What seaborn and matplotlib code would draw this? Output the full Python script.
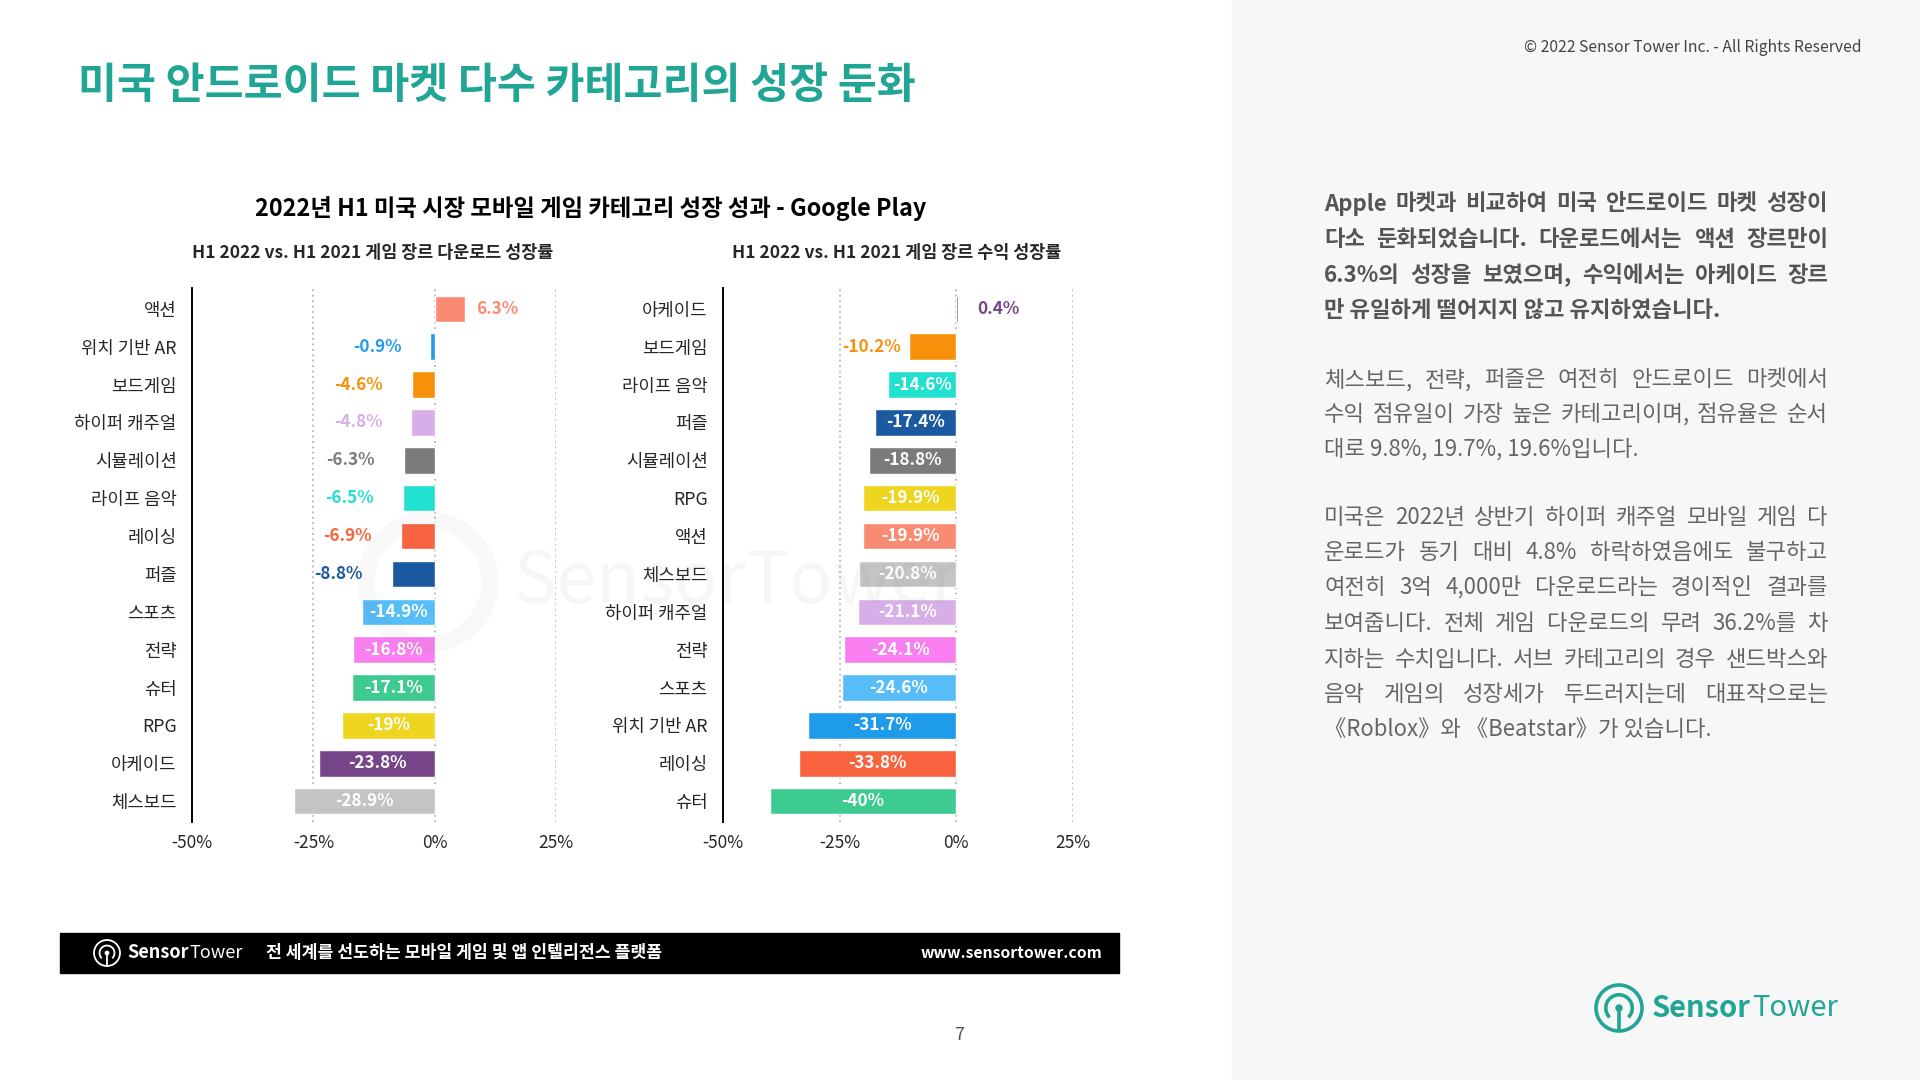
import pandas as pd
import matplotlib
matplotlib.use("Agg")
import matplotlib.pyplot as plt
import seaborn as sns
from matplotlib.patches import Rectangle, Circle, Arc

sns.set_style("white")
plt.rcParams['font.family'] = ['Noto Sans CJK KR', 'DejaVu Sans']

TEAL = "#21a594"

# colour per genre (same in both panels)
genre_colors = {
    "액션": "#f98b72",
    "위치 기반 AR": "#1e9be9",
    "보드게임": "#f7900a",
    "하이퍼 캐주얼": "#d8aee8",
    "시뮬레이션": "#7b7b7b",
    "라이프 음악": "#22e0cf",
    "레이싱": "#f9623e",
    "퍼즐": "#1b5aa0",
    "스포츠": "#56bdf9",
    "전략": "#f97ff0",
    "슈터": "#3dcb92",
    "RPG": "#eed51f",
    "아케이드": "#774589",
    "체스보드": "#c4c4c4",
}

# downloads growth H1 2022 vs H1 2021
dl_genres = ["액션", "위치 기반 AR", "보드게임", "하이퍼 캐주얼", "시뮬레이션", "라이프 음악", "레이싱",
             "퍼즐", "스포츠", "전략", "슈터", "RPG", "아케이드", "체스보드"]
dl_growth = [6.3, -0.9, -4.6, -4.8, -6.3, -6.5, -6.9, -8.8, -14.9, -16.8, -17.1, -19, -23.8, -28.9]

# revenue growth H1 2022 vs H1 2021
rev_genres = ["아케이드", "보드게임", "라이프 음악", "퍼즐", "시뮬레이션", "RPG", "액션", "체스보드",
              "하이퍼 캐주얼", "전략", "스포츠", "위치 기반 AR", "레이싱", "슈터"]
rev_growth = [0.4, -10.2, -14.6, -17.4, -18.8, -19.9, -19.9, -20.8, -21.1, -24.1, -24.6, -31.7, -33.8, -40]

x_ticks = [-50, -25, 0, 25]
x_tick_labels = ["-50%", "-25%", "0%", "25%"]

para1 = ["Apple 마켓과 비교하여 미국 안드로이드 마켓 성장이",
         "다소 둔화되었습니다. 다운로드에서는 액션 장르만이",
         "6.3%의 성장을 보였으며, 수익에서는 아케이드 장르",
         "만 유일하게 떨어지지 않고 유지하였습니다."]
para2 = ["체스보드, 전략, 퍼즐은 여전히 안드로이드 마켓에서",
         "수익 점유일이 가장 높은 카테고리이며, 점유율은 순서",
         "대로 9.8%, 19.7%, 19.6%입니다."]
para3 = ["미국은 2022년 상반기 하이퍼 캐주얼 모바일 게임 다",
         "운로드가 동기 대비 4.8% 하락하였음에도 불구하고",
         "여전히 3억 4,000만 다운로드라는 경이적인 결과를",
         "보여줍니다. 전체 게임 다운로드의 무려 36.2%를 차",
         "지하는 수치입니다. 서브 카테고리의 경우 샌드박스와",
         "음악 게임의 성장세가 두드러지는데 대표작으로는",
         "《Roblox》와 《Beatstar》가 있습니다."]

W, H = 1920, 1080
fig = plt.figure(figsize=(19.2, 10.8), dpi=100)
fig.patch.set_facecolor("white")


def panel(rect, genres, growth, neg_gap, pos_gap):
    ax = fig.add_axes(rect)
    df = pd.DataFrame({"genre": genres, "growth": growth})
    sns.barplot(data=df, x="growth", y="genre", hue="genre", palette=genre_colors,
                saturation=1, width=0.7, legend=False, ax=ax, zorder=3)
    ax.set_xlim(-50, 25)
    ax.set_ylim(13.55, -0.55)
    for s in ["top", "right", "bottom"]:
        ax.spines[s].set_visible(False)
    ax.spines["left"].set_color("black")
    ax.spines["left"].set_linewidth(1.4)
    for g in [-25, 0, 25]:
        ax.axvline(g, color="#b5b5b5", lw=1.3, ls=(0, (1, 2)), zorder=1)
    ax.set_xticks(x_ticks)
    ax.set_xticklabels(x_tick_labels, fontsize=12.5)
    ax.tick_params(axis="x", length=0, pad=9)
    ax.tick_params(axis="y", length=0, pad=11, labelsize=12.8)
    ax.set_xlabel("")
    ax.set_ylabel("")
    for i, v in enumerate(growth):
        lab = f"{v:g}%"
        col = genre_colors[genres[i]]
        if v <= -12:
            ax.text(v / 2, i, lab, ha="center", va="center", color="white",
                    fontsize=12.3, fontweight="bold", zorder=5)
        elif v < 0:
            ax.annotate(lab, xy=(v, i), xytext=(-neg_gap, 0), textcoords="offset points",
                        ha="right", va="center", color=col, fontsize=12.3, fontweight="bold")
        else:
            ax.annotate(lab, xy=(v, i), xytext=(pos_gap, 0), textcoords="offset points",
                        ha="left", va="center", color=col, fontsize=12.3, fontweight="bold")
    return ax


panel([192 / W, 1 - 822 / H, 364 / W, 534 / H], dl_genres, dl_growth, 21, 8)
panel([723 / W, 1 - 822 / H, 350 / W, 534 / H], rev_genres, rev_growth, 6, 14)

# overlay in pixel coordinates for the slide decoration
ov = fig.add_axes([0, 0, 1, 1])
ov.set_xlim(0, W)
ov.set_ylim(H, 0)
ov.axis("off")
ov.patch.set_alpha(0)
ov.set_zorder(10)

ov.add_patch(Rectangle((1232, 0), W - 1232, H, color="#f7f7f7", zorder=0))

ov.text(78, 86, "미국 안드로이드 마켓 다수 카테고리의 성장 둔화", fontsize=30.5, fontweight="bold",
        color=TEAL, ha="left", va="center")
ov.text(591, 209, "2022년 H1 미국 시장 모바일 게임 카테고리 성장 성과 - Google Play",
        fontsize=16.8, fontweight="bold", color="black", ha="center", va="center")
ov.text(373, 253, "H1 2022 vs. H1 2021 게임 장르 다운로드 성장률", fontsize=12.5,
        fontweight="bold", ha="center", va="center")
ov.text(897, 253, "H1 2022 vs. H1 2021 게임 장르 수익 성장률", fontsize=12.5,
        fontweight="bold", ha="center", va="center")
ov.text(1861, 47, "© 2022 Sensor Tower Inc. - All Rights Reserved", fontsize=11.3,
        color="#444444", ha="right", va="center")
ov.text(959, 1035, "7", fontsize=13, color="#555555", ha="center", va="center")

renderer = fig.canvas.get_renderer()


def text_width(t):
    bb = t.get_window_extent(renderer)
    return bb.width


def justified(lines, x0, x1, y0, dy, **kw):
    for i, line in enumerate(lines):
        y = y0 + i * dy
        words = line.split(" ")
        if i == len(lines) - 1 or len(words) == 1:
            ov.text(x0, y, line, ha="left", va="center", **kw)
            continue
        ts = [ov.text(0, y, w, ha="left", va="center", **kw) for w in words]
        ws = [text_width(t) for t in ts]
        gap = max((x1 - x0 - sum(ws)) / (len(words) - 1), 3)
        x = x0
        for t, w in zip(ts, ws):
            t.set_x(x)
            x += w + gap


justified(para1, 1324, 1828, 204, 35.5, fontsize=16, fontweight="bold", color="#555555")
justified(para2, 1324, 1828, 380, 34.5, fontsize=16, color="#666666")
justified(para3, 1324, 1828, 517, 35.5, fontsize=16, color="#666666")


def logo(cx, cy, r, color, lw):
    ov.add_patch(Circle((cx, cy), r, fill=False, ec=color, lw=lw, zorder=3))
    ov.add_patch(Arc((cx, cy), 1.15 * r, 1.15 * r, theta1=135, theta2=45, ec=color, lw=lw, zorder=3))
    ov.plot([cx, cx], [cy, cy + r], color=color, lw=lw, solid_capstyle="butt", zorder=3)
    ov.add_patch(Circle((cx, cy), 0.13 * r, color=color, zorder=3))


def wordmark(x, y, size, color):
    t1 = ov.text(x, y, "Sensor", fontsize=size, fontweight="bold", color=color,
                 ha="left", va="center", zorder=4)
    ov.text(x + text_width(t1) + size * 0.05, y, "Tower", fontsize=size, fontweight="light",
            color=color, ha="left", va="center", zorder=4)


# footer bar
ov.add_patch(Rectangle((60, 933), 1059, 40, color="black", zorder=2))
logo(107, 953, 13, "white", 1.3)
wordmark(127, 953, 13, "white")
ov.text(266, 953, "전 세계를 선도하는 모바일 게임 및 앱 인텔리전스 플랫폼", fontsize=12.4,
        fontweight="bold", color="white", ha="left", va="center", zorder=4)
ov.text(1102, 953, "www.sensortower.com", fontsize=11.3, fontweight="bold", color="white",
        ha="right", va="center", zorder=4)

# bottom-right logo
logo(1619, 1008, 23, TEAL, 2.6)
wordmark(1652, 1008, 21, TEAL)

# faint watermark over the charts
ov.add_patch(Circle((428, 582), 62, fill=False, ec="#888888", lw=12, alpha=0.06, zorder=6))
ov.text(514, 582, "SensorTower", fontsize=52, color="#888888", alpha=0.07,
        ha="left", va="center", zorder=6)

fig.savefig("out.png", dpi=100)
